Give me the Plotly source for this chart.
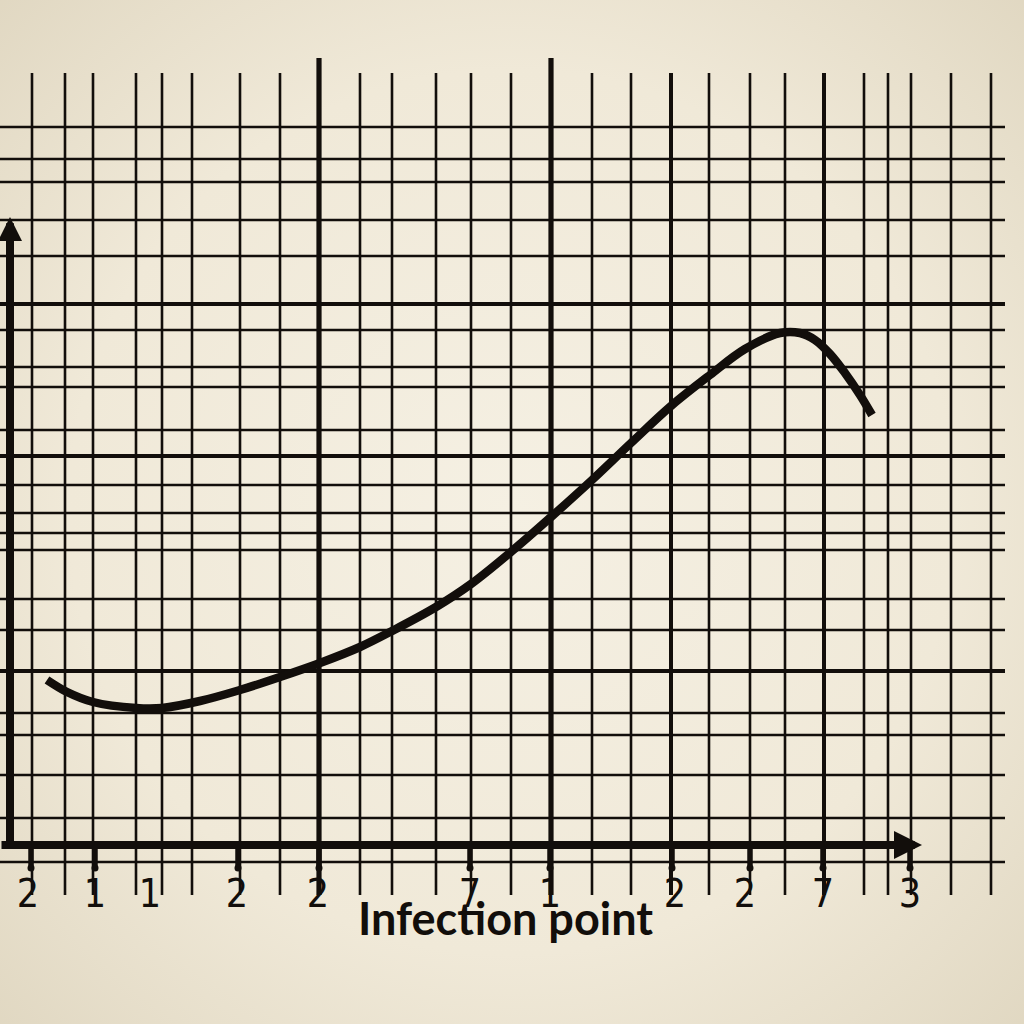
import plotly.graph_objects as go

# ---- data (chart units) ----
grid_x_thin = [2.2, 5.5, 8.3, 12.6, 15.2, 18.2, 23.0, 27.0, 35.0, 38.2, 42.6, 46.1,
               50.1, 58.2, 62.1, 69.9, 74.0, 77.5, 85.4, 87.8, 90.1, 94.1, 98.1]
grid_x_bold = [30.9, 54.1]
grid_x_mid = [66.1, 81.4]
grid_y_thin = [71.8, 68.6, 66.3, 62.5, 58.9, 51.5, 47.8, 45.8, 41.5, 36.0, 33.2, 31.2,
               29.5, 24.6, 21.5, 13.2, 11.0, 7.0, 2.7, -1.7]
grid_y_bold = [54.1, 38.9, 17.4]

curve_x = [3.7, 5.7, 8.3, 12.6, 15.2, 19.0, 23.0, 27.0, 31.0, 35.0, 38.2, 42.6, 46.1,
           50.2, 54.1, 58.2, 62.1, 66.1, 70.0, 73.5, 77.0, 79.0, 80.5, 82.0, 83.5, 85.0, 86.2]
curve_y = [16.5, 15.3, 14.3, 13.7, 13.7, 14.4, 15.5, 16.8, 18.2, 19.8, 21.4, 23.8, 26.1,
           29.4, 32.8, 36.5, 40.2, 43.9, 47.0, 49.6, 51.2, 51.2, 50.5, 49.1, 47.2, 45.0, 43.0]

tick_mark_x = [2.1, 8.5, 22.8, 30.9, 46.0, 54.0, 66.2, 74.0, 81.3, 90.0]
tick_label_x = [1.8, 8.5, 14.0, 22.7, 30.8, 46.0, 54.0, 66.5, 73.5, 81.3, 90.0]
tick_labels = ["2", "1", "1", "2", "2", "7", "1", "2", "2", "7", "3"]
x_title = "Infection point"

# ---- extents ----
X0, X1 = -1.0, 99.5          # horizontal grid extent
Y_TOP, Y_BOT = 77.2, -5.0    # vertical grid extent
Y_TOP_BOLD = 78.7
INK = "#120e0b"


def vlines(xs, y0, y1):
    X, Y = [], []
    for x in xs:
        X += [x, x, None]
        Y += [y0, y1, None]
    return X, Y


def hlines(ys, x0, x1):
    X, Y = [], []
    for y in ys:
        X += [x0, x1, None]
        Y += [y, y, None]
    return X, Y


fig = go.Figure()

for xs, w, top in [(grid_x_thin, 2.6, Y_TOP), (grid_x_mid, 4.0, Y_TOP), (grid_x_bold, 5.2, Y_TOP_BOLD)]:
    X, Y = vlines(xs, top, Y_BOT)
    fig.add_trace(go.Scatter(x=X, y=Y, mode="lines", line=dict(color=INK, width=w),
                             hoverinfo="skip", showlegend=False))

for ys, w in [(grid_y_thin, 2.6), (grid_y_bold, 4.2)]:
    X, Y = hlines(ys, X0, X1)
    fig.add_trace(go.Scatter(x=X, y=Y, mode="lines", line=dict(color=INK, width=w),
                             hoverinfo="skip", showlegend=False))

# tick stubs
X, Y = vlines(tick_mark_x, 0, -2.3)
fig.add_trace(go.Scatter(x=X, y=Y, mode="lines", line=dict(color=INK, width=5.5),
                         hoverinfo="skip", showlegend=False))
fig.add_trace(go.Scatter(x=tick_mark_x, y=[-2.3] * len(tick_mark_x), mode="markers",
                         marker=dict(color=INK, size=7), hoverinfo="skip", showlegend=False))

# curve
fig.add_trace(go.Scatter(x=curve_x, y=curve_y, mode="lines",
                         line=dict(color=INK, width=8.5, shape="spline", smoothing=1.0),
                         hoverinfo="skip", showlegend=False))

# tick labels
fig.add_trace(go.Scatter(x=tick_label_x, y=[-5.2] * len(tick_label_x), mode="text",
                         text=tick_labels,
                         textfont=dict(family="Liberation Sans Narrow, DejaVu Sans Condensed, sans-serif",
                                       size=39, color=INK),
                         hoverinfo="skip", showlegend=False))

annotations = [
    # x axis with arrow
    dict(x=91.2, y=0, ax=-1.0, ay=0, xref="x", yref="y", axref="x", ayref="y",
         showarrow=True, arrowhead=2, arrowsize=0.7, arrowwidth=8, arrowcolor=INK, text=""),
    # y axis with arrow
    dict(x=0, y=62.8, ax=0, ay=0, xref="x", yref="y", axref="x", ayref="y",
         showarrow=True, arrowhead=2, arrowsize=0.6, arrowwidth=8, arrowcolor=INK, text=""),
    dict(x=49.5, y=-7.3, xref="x", yref="y", text=x_title, showarrow=False,
         font=dict(family="Lato, sans-serif", size=45, color=INK, weight="bold")),
]

vignette = ("data:image/svg+xml;utf8,"
            "<svg xmlns='http://www.w3.org/2000/svg' width='1024' height='1024'>"
            "<defs><radialGradient id='g' cx='50%' cy='50%' r='72%'>"
            "<stop offset='0%' stop-color='%23F5F0E3'/>"
            "<stop offset='60%' stop-color='%23F0E9D8'/>"
            "<stop offset='100%' stop-color='%23E0D7C1'/>"
            "</radialGradient></defs>"
            "<rect width='1024' height='1024' fill='url(%23g)'/></svg>")

fig.update_layout(
    width=1024, height=1024,
    margin=dict(l=0, r=0, t=0, b=0),
    paper_bgcolor="#EFE8D7",
    plot_bgcolor="rgba(0,0,0,0)",
    xaxis=dict(range=[-1.0, 101.4], visible=False, fixedrange=True),
    yaxis=dict(range=[-17.9, 84.5], visible=False, fixedrange=True),
    annotations=annotations,
    images=[dict(source=vignette, xref="paper", yref="paper", x=0, y=1,
                 sizex=1, sizey=1, sizing="stretch", layer="below", xanchor="left", yanchor="top")],
)

fig.write_html("out.html", config={"displayModeBar": False},
               post_script="document.body.style.margin='0';document.body.style.padding='0';"
                           "document.body.style.overflow='hidden';")
